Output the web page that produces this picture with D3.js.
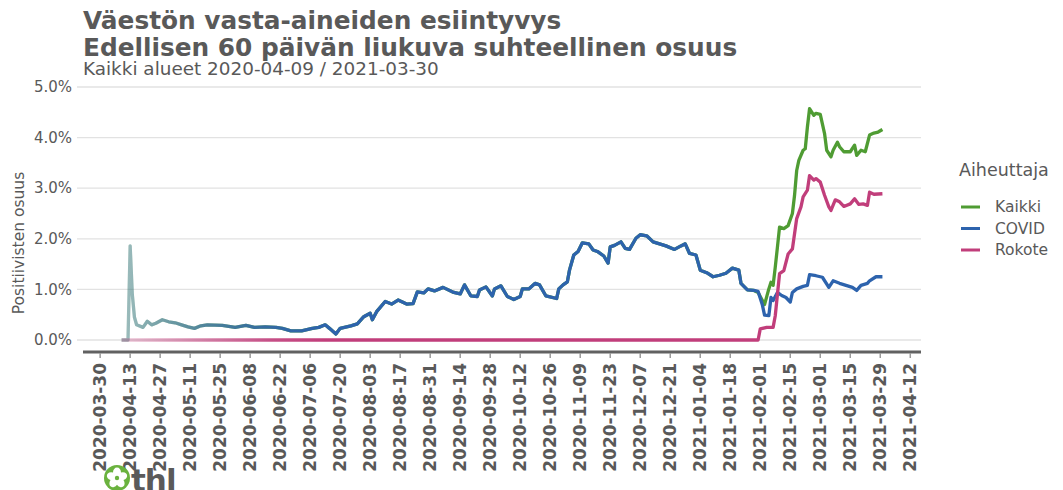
<!DOCTYPE html>
<html>
<head>
<meta charset="utf-8">
<script src="https://cdn.jsdelivr.net/npm/d3@7"></script>
<style>
  body { margin: 0; background: #fff; }
  svg { display: block; font-family: "DejaVu Sans", sans-serif; }
</style>
</head>
<body>
<svg id="chart" width="1063" height="490"></svg>
<script>
// day offsets are counted from the first sample date
const startDate = "2020-04-09";

const covidDay = [0, 3, 4, 5, 6, 7, 10, 12, 14, 16, 19, 22, 25, 28, 31, 34, 37, 40, 47, 53, 58, 62, 67, 72, 75, 79, 84, 89, 92, 95, 97, 100, 102, 104, 107, 110, 113, 116, 117, 119, 123, 126, 129, 133, 136, 138, 141, 143, 146, 150, 155, 158, 160, 163, 166, 167, 170, 173, 174, 177, 180, 183, 186, 187, 190, 193, 195, 198, 203, 204, 206, 208, 209, 211, 213, 215, 218, 220, 222, 225, 227, 228, 230, 233, 235, 237, 240, 242, 245, 248, 251, 254, 258, 261, 263, 265, 268, 270, 273, 276, 279, 282, 285, 288, 289, 292, 295, 297, 299, 300, 302, 303, 304, 306, 308, 310, 312, 313, 315, 318, 320, 321, 324, 327, 330, 332, 335, 338, 341, 343, 345, 348, 349, 352, 355];
const covidValue = [0, 0, 1.86, 0.9, 0.45, 0.30, 0.25, 0.37, 0.30, 0.33, 0.40, 0.36, 0.34, 0.30, 0.26, 0.23, 0.28, 0.30, 0.29, 0.25, 0.29, 0.25, 0.26, 0.25, 0.23, 0.18, 0.18, 0.23, 0.25, 0.30, 0.23, 0.12, 0.23, 0.25, 0.28, 0.32, 0.46, 0.53, 0.40, 0.56, 0.76, 0.71, 0.79, 0.71, 0.72, 0.95, 0.93, 1.01, 0.97, 1.04, 0.94, 0.91, 1.09, 0.87, 0.86, 0.99, 1.05, 0.87, 1.01, 1.07, 0.86, 0.80, 0.86, 1.01, 1.01, 1.12, 1.09, 0.87, 0.82, 1.01, 1.09, 1.15, 1.38, 1.68, 1.75, 1.92, 1.90, 1.78, 1.75, 1.66, 1.52, 1.84, 1.87, 1.94, 1.81, 1.79, 2.01, 2.08, 2.06, 1.94, 1.90, 1.86, 1.79, 1.86, 1.90, 1.71, 1.68, 1.38, 1.33, 1.25, 1.28, 1.32, 1.42, 1.38, 1.12, 0.99, 0.98, 0.96, 0.69, 0.49, 0.48, 0.84, 0.78, 0.94, 0.88, 0.84, 0.75, 0.94, 1.01, 1.06, 1.08, 1.29, 1.27, 1.24, 1.04, 1.17, 1.12, 1.08, 1.04, 0.98, 1.08, 1.12, 1.17, 1.25, 1.25];

// Kaikki follows COVID until vaccine positives appear
const kaikkiDay = [297, 300, 302, 303, 304, 305, 306, 307, 309, 311, 313, 314, 315, 316, 318, 319, 320, 321, 323, 324, 326, 328, 329, 331, 332, 334, 335, 337, 340, 342, 343, 345, 347, 349, 351, 353, 355];
const kaikkiValue = [0.94, 0.70, 1.01, 1.14, 1.08, 1.44, 1.83, 2.23, 2.20, 2.26, 2.50, 2.86, 3.35, 3.55, 3.75, 3.78, 4.21, 4.57, 4.44, 4.48, 4.46, 4.08, 3.75, 3.62, 3.75, 3.91, 3.82, 3.72, 3.72, 3.85, 3.65, 3.75, 3.72, 4.05, 4.09, 4.11, 4.16];

const rokoteDay = [0, 297, 298, 301, 304, 305, 307, 309, 311, 313, 315, 317, 318, 320, 321, 323, 324, 326, 328, 330, 331, 333, 335, 337, 340, 342, 344, 346, 348, 349, 351, 355];
const rokoteValue = [0, 0, 0.22, 0.25, 0.25, 0.48, 1.31, 1.37, 1.70, 1.80, 2.40, 2.63, 2.83, 2.96, 3.25, 3.16, 3.19, 3.12, 2.86, 2.63, 2.56, 2.77, 2.73, 2.64, 2.69, 2.79, 2.68, 2.69, 2.66, 2.92, 2.88, 2.89];

const seriesNames = ["Kaikki", "COVID", "Rokote"];
const yTicks = [0, 1, 2, 3, 4, 5];
const xTicks = ["2020-03-30", "2020-04-13", "2020-04-27", "2020-05-11", "2020-05-25", "2020-06-08", "2020-06-22", "2020-07-06", "2020-07-20", "2020-08-03", "2020-08-17", "2020-08-31", "2020-09-14", "2020-09-28", "2020-10-12", "2020-10-26", "2020-11-09", "2020-11-23", "2020-12-07", "2020-12-21", "2021-01-04", "2021-01-18", "2021-02-01", "2021-02-15", "2021-03-01", "2021-03-15", "2021-03-29", "2021-04-12"];

const colors = { Kaikki: "#4f9c33", COVID: "#2d63ad", Rokote: "#c13e7b" };
const textColor = "#595959";

const parse = d3.timeParse("%Y-%m-%d");
const start = parse(startDate);

function toPoints(days, values) {
  return days.map((d, i) => ({ date: d3.timeDay.offset(start, d), value: values[i] / 100 }));
}

const covid = toPoints(covidDay, covidValue);
const kaikki = covid.filter(p => p.date < d3.timeDay.offset(start, kaikkiDay[0]))
  .concat(toPoints(kaikkiDay, kaikkiValue));
const rokote = toPoints(rokoteDay, rokoteValue);
const series = { Kaikki: kaikki, COVID: covid, Rokote: rokote };

const svg = d3.select("#chart");

const x = d3.scaleTime()
  .domain([parse("2020-03-22"), parse("2021-04-17")])
  .range([83, 921]);

const y = d3.scaleLinear()
  .domain([0, 0.05])
  .range([340, 87]);

// titles
svg.append("text")
  .attr("x", 83).attr("y", 29)
  .attr("font-size", 24.8).attr("font-weight", "bold").attr("fill", textColor)
  .text("Väestön vasta-aineiden esiintyvys");
svg.append("text")
  .attr("x", 83).attr("y", 56)
  .attr("font-size", 24.8).attr("font-weight", "bold").attr("fill", textColor)
  .text("Edellisen 60 päivän liukuva suhteellinen osuus");
svg.append("text")
  .attr("x", 83).attr("y", 75)
  .attr("font-size", 18.4).attr("fill", textColor)
  .text("Kaikki alueet 2020-04-09 / 2021-03-30");

// grid + y labels
const yAxis = svg.append("g");
yAxis.selectAll("line")
  .data(yTicks)
  .join("line")
  .attr("x1", 77).attr("x2", 921)
  .attr("y1", d => y(d / 100)).attr("y2", d => y(d / 100))
  .attr("stroke", "#e2e2e2").attr("stroke-width", 1.3);
yAxis.selectAll("text")
  .data(yTicks)
  .join("text")
  .attr("x", 72).attr("y", d => y(d / 100))
  .attr("dy", "0.35em").attr("text-anchor", "end")
  .attr("font-size", 15).attr("fill", textColor)
  .text(d => d3.format(".1%")(d / 100));

svg.append("text")
  .attr("transform", "translate(24,243) rotate(-90)")
  .attr("text-anchor", "middle")
  .attr("font-size", 15.5).attr("fill", textColor)
  .text("Positiivisten osuus");

// x axis
svg.append("line")
  .attr("x1", 83).attr("x2", 921).attr("y1", 352).attr("y2", 352)
  .attr("stroke", "#616161").attr("stroke-width", 3);

const xAxis = svg.append("g");
xAxis.selectAll("line")
  .data(xTicks)
  .join("line")
  .attr("x1", d => x(parse(d))).attr("x2", d => x(parse(d)))
  .attr("y1", 353).attr("y2", 358)
  .attr("stroke", "#9a9a9a").attr("stroke-width", 1.5);
xAxis.selectAll("text")
  .data(xTicks)
  .join("text")
  .attr("transform", d => `translate(${x(parse(d))},363) rotate(-90)`)
  .attr("dy", "0.36em").attr("text-anchor", "end")
  .attr("font-size", 17).attr("font-weight", "bold").attr("fill", textColor)
  .text(d => d);

// early estimates are faded (small sample)
const defs = svg.append("defs");
const fade = [[0, 0.28], [15, 0.42], [40, 0.65], [70, 0.9], [95, 1]];
seriesNames.forEach(name => {
  const g = defs.append("linearGradient")
    .attr("id", "grad-" + name)
    .attr("gradientUnits", "userSpaceOnUse")
    .attr("x1", x(start)).attr("x2", x(d3.timeDay.offset(start, 95)))
    .attr("y1", 0).attr("y2", 0);
  g.selectAll("stop")
    .data(fade)
    .join("stop")
    .attr("offset", d => d[0] / 95)
    .attr("stop-color", colors[name])
    .attr("stop-opacity", d => d[1]);
});

const line = d3.line()
  .x(d => x(d.date))
  .y(d => y(d.value));

svg.append("g")
  .selectAll("path")
  .data(seriesNames)
  .join("path")
  .attr("d", name => line(series[name]))
  .attr("fill", "none")
  .attr("stroke", name => `url(#grad-${name})`)
  .attr("stroke-width", 3.3)
  .attr("stroke-linejoin", "round");

// legend
const legend = svg.append("g").attr("transform", "translate(959,0)");
legend.append("text")
  .attr("x", 0).attr("y", 176)
  .attr("font-size", 17.5).attr("fill", textColor)
  .text("Aiheuttaja");
const item = legend.selectAll("g")
  .data(seriesNames)
  .join("g")
  .attr("transform", (d, i) => `translate(0,${207 + i * 21.5})`);
item.append("line")
  .attr("x1", 2).attr("x2", 21)
  .attr("stroke", d => colors[d]).attr("stroke-width", 3);
item.append("text")
  .attr("x", 36).attr("dy", "0.35em")
  .attr("font-size", 15.5).attr("fill", textColor)
  .text(d => d);

// thl logo
const logo = svg.append("g").attr("transform", "translate(117,478)");
logo.append("circle").attr("r", 13).attr("fill", "#6ab23e");
logo.selectAll("ellipse")
  .data(d3.range(5))
  .join("ellipse")
  .attr("cx", 0).attr("cy", -5.5)
  .attr("rx", 4).attr("ry", 5)
  .attr("fill", "#fff")
  .attr("transform", d => `rotate(${d * 72})`);
logo.append("circle").attr("r", 2.2).attr("fill", "#6ab23e");
logo.append("text")
  .attr("x", 14).attr("y", 13)
  .attr("font-size", 31).attr("font-weight", "bold").attr("fill", "#5a5a5a")
  .attr("letter-spacing", -1)
  .text("thl");
</script>
</body>
</html>
